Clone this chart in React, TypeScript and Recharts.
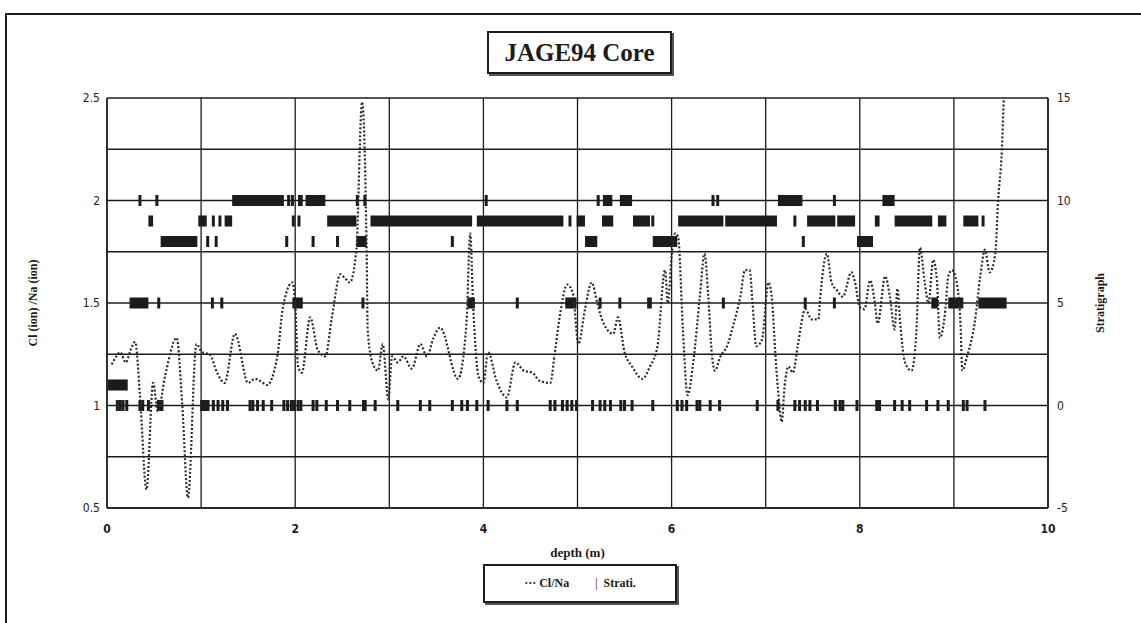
import React from "react";
import {
  ComposedChart,
  Line,
  Scatter,
  XAxis,
  YAxis,
  CartesianGrid,
  ReferenceArea,
} from "recharts";

// Cl/Na ratio along the core
const depths = [
  0.05, 0.1, 0.14, 0.2, 0.25, 0.3, 0.35, 0.42, 0.49, 0.54, 0.62, 0.74, 0.8, 0.86, 0.95, 1.01, 1.09, 1.17, 1.25, 1.36,
  1.5, 1.57, 1.63, 1.7, 1.81, 1.87, 1.97, 2.0, 2.03, 2.07, 2.16, 2.24, 2.32, 2.39, 2.48, 2.53, 2.58, 2.65, 2.71, 2.76,
  2.77, 2.82, 2.88, 2.93, 2.99, 3.03, 3.09, 3.15, 3.24, 3.33, 3.4, 3.47, 3.54, 3.73, 3.82, 3.86, 3.89, 3.95, 4.0, 4.05,
  4.14, 4.25, 4.34, 4.43, 4.52, 4.6, 4.71, 4.76, 4.81, 4.89, 4.95, 5.01, 5.08, 5.15, 5.21, 5.26, 5.38, 5.43, 5.5, 5.58,
  5.69, 5.77, 5.85, 5.93, 5.96, 6.0, 6.04, 6.07, 6.12, 6.17, 6.23, 6.3, 6.35, 6.39, 6.43, 6.46, 6.52, 6.59, 6.66, 6.73,
  6.78, 6.83, 6.86, 6.9, 6.96, 7.03, 7.07, 7.1, 7.13, 7.17, 7.2, 7.24, 7.29, 7.34, 7.42, 7.49, 7.56, 7.58, 7.65, 7.7,
  7.76, 7.82, 7.91, 7.95, 8.0, 8.05, 8.11, 8.16, 8.19, 8.27, 8.32, 8.37, 8.4, 8.43, 8.48, 8.55, 8.6, 8.64, 8.69, 8.73,
  8.78, 8.82, 8.85, 8.91, 8.94, 8.98, 9.03, 9.07, 9.09, 9.14, 9.22, 9.28, 9.33, 9.38, 9.44, 9.47, 9.51, 9.53,
];
const ratios = [
  1.2, 1.24, 1.26, 1.21, 1.27, 1.31, 1.05, 0.59, 1.11, 0.97, 1.15, 1.33, 1.0, 0.55, 1.3, 1.26, 1.25, 1.16, 1.11, 1.35,
  1.11, 1.13, 1.12, 1.1, 1.24, 1.48, 1.6, 1.5, 1.19, 1.16, 1.43, 1.27, 1.24, 1.43, 1.64, 1.62, 1.6, 1.76, 2.48, 1.73,
  1.37, 1.21, 1.17, 1.3, 1.03, 1.24, 1.21, 1.24, 1.18, 1.3, 1.24, 1.33, 1.38, 1.13, 1.4, 1.84, 1.5, 1.14, 1.11, 1.26,
  1.12, 1.04, 1.21, 1.17, 1.16, 1.12, 1.11, 1.26, 1.43, 1.59, 1.55, 1.3, 1.47, 1.6, 1.5, 1.42, 1.35, 1.43, 1.26, 1.19,
  1.13, 1.19, 1.29, 1.66, 1.5, 1.73, 1.84, 1.82, 1.37, 1.05, 1.21, 1.53, 1.74, 1.53, 1.24, 1.17, 1.24, 1.29, 1.4, 1.53,
  1.66, 1.66, 1.5, 1.29, 1.32, 1.6, 1.5, 1.27, 1.08, 0.92, 1.09, 1.19, 1.16, 1.29, 1.47, 1.42, 1.42, 1.53, 1.74, 1.6,
  1.56, 1.53, 1.65, 1.6, 1.48, 1.47, 1.61, 1.5, 1.4, 1.63, 1.53, 1.37, 1.57, 1.4, 1.21, 1.17, 1.35, 1.77, 1.6, 1.5,
  1.71, 1.61, 1.33, 1.47, 1.63, 1.66, 1.6, 1.4, 1.17, 1.24, 1.4, 1.63, 1.76, 1.65, 1.74, 2.0, 2.25, 2.5,
];

// stratigraph markers: single samples and runs of samples, per level
const level0Ticks = [
  0.11, 0.14, 0.17, 0.21, 0.35, 0.38, 0.44, 1.13, 1.18, 1.23, 1.28, 1.52, 1.55, 1.6, 1.66, 1.75, 1.88, 1.92, 1.96,
  1.99, 2.03, 2.06, 2.19, 2.23, 2.33, 2.45, 2.58, 2.85, 3.09, 3.33, 3.43, 3.67, 3.77, 3.83, 3.93, 4.05, 4.25, 4.36,
  4.71, 4.76, 4.84, 4.89, 4.94, 4.99, 5.16, 5.24, 5.29, 5.35, 5.46, 5.5, 5.58, 5.8, 6.06, 6.11, 6.16, 6.27, 6.3,
  6.41, 6.51, 6.91, 7.13, 7.31, 7.36, 7.42, 7.47, 7.55, 7.74, 7.79, 7.82, 7.97, 8.18, 8.21, 8.37, 8.45, 8.53, 8.71,
  8.83, 8.94, 9.1, 9.14, 9.33,
];
const level0Runs = [[0.53, 0.6], [0.99, 1.09], [2.71, 2.76]];
const level1Runs = [[0.01, 0.22]];
const level5Ticks = [0.55, 1.12, 1.22, 2.72, 4.36, 5.24, 5.45, 6.55, 7.42, 7.73];
const level5Runs = [
  [0.24, 0.44], [1.97, 2.08], [3.83, 3.91], [4.87, 4.99], [5.74, 5.79], [8.76, 8.83], [8.94, 9.1], [9.26, 9.56],
];
const level8Ticks = [1.07, 1.16, 1.91, 2.19, 2.45, 3.67, 7.4];
const level8Runs = [[0.57, 0.96], [2.65, 2.76], [5.08, 5.21], [5.8, 6.06], [7.97, 8.14]];
const level9Ticks = [1.13, 1.2, 1.98, 2.04, 4.92, 5.8, 7.31, 9.31];
const level9Runs = [
  [0.44, 0.49], [0.97, 1.06], [1.25, 1.33], [2.34, 2.65], [2.8, 3.88], [3.93, 4.85], [4.99, 5.08], [5.26, 5.38],
  [5.59, 5.77], [6.07, 6.55], [6.57, 7.12], [7.44, 7.74], [7.76, 7.95], [8.16, 8.21], [8.37, 8.77], [8.83, 8.92],
  [9.1, 9.26],
];
const level10Ticks = [0.35, 0.53, 1.93, 1.97, 2.66, 2.74, 4.03, 5.22, 6.44, 6.49, 7.73];
const level10Runs = [[1.33, 1.88], [2.03, 2.08], [2.11, 2.32], [5.27, 5.37], [5.45, 5.58], [7.13, 7.39], [8.24, 8.37]];

const xTicks = [0, 1, 2, 3, 4, 5, 6, 7, 8, 9, 10];
const leftTicks = [0.5, 0.75, 1, 1.25, 1.5, 1.75, 2, 2.25, 2.5];
const rightTicks = [-5, 0, 5, 10, 15];

const clna = depths.map((d, i) => ({ depth: d, ratio: ratios[i] }));

const tickSets: [number, number[]][] = [
  [0, level0Ticks],
  [5, level5Ticks],
  [8, level8Ticks],
  [9, level9Ticks],
  [10, level10Ticks],
];
const runSets: [number, number[][]][] = [
  [0, level0Runs],
  [1, level1Runs],
  [5, level5Runs],
  [8, level8Runs],
  [9, level9Runs],
  [10, level10Runs],
];
const strati = tickSets.flatMap(([level, ds]) => ds.map((d) => ({ depth: d, level })));
const runs = runSets.flatMap(([level, rs]) => rs.map(([a, b]) => ({ level, from: a, to: b })));

const INK = "#1c1c1c";
const HALF = 0.27; // half height of a strati mark, in stratigraph units
const serif = "'Liberation Serif', 'Times New Roman', serif";
const narrow = "'DejaVu Sans Condensed', 'Liberation Sans Narrow', sans-serif";

const StratiMark = (props: any) => {
  const { cx, cy } = props;
  return <rect x={cx - 1.5} y={cy - 5.5} width={3} height={11} fill={INK} />;
};

const halfTicks = (v: number) => (Number.isInteger(v * 2) ? String(v) : "");
const evenTicks = (v: number) => (v % 2 === 0 ? String(v) : "");

export default function App() {
  return (
    <div
      style={{
        position: "fixed",
        left: 0,
        top: 0,
        width: 1141,
        height: 623,
        overflow: "hidden",
        background: "#fff",
      }}
    >
      <div
        style={{
          position: "absolute",
          left: 5,
          top: 13,
          width: 1200,
          height: 700,
          border: `2px solid ${INK}`,
        }}
      />
      <ComposedChart
        width={1141}
        height={623}
        margin={{ top: 98, right: 33, bottom: 85, left: 47 }}
        style={{ position: "absolute", left: 0, top: 0 }}
      >
        <CartesianGrid stroke={INK} strokeWidth={1.3} />
        <XAxis
          dataKey="depth"
          type="number"
          domain={[0, 10]}
          ticks={xTicks}
          tickFormatter={evenTicks}
          interval={0}
          height={30}
          tickLine={false}
          tickMargin={10}
          axisLine={{ stroke: INK, strokeWidth: 1.5 }}
          tick={{ fill: INK, fontSize: 12, fontFamily: narrow, fontWeight: 700 }}
          allowDataOverflow
          label={{
            value: "depth (m)",
            position: "bottom",
            offset: 10,
            style: { fill: INK, fontSize: 13, fontFamily: serif, fontWeight: 700 },
          }}
        />
        <YAxis
          type="number"
          domain={[0.5, 2.5]}
          ticks={leftTicks}
          tickFormatter={halfTicks}
          interval={0}
          width={60}
          tickLine={false}
          tickMargin={1}
          axisLine={{ stroke: INK, strokeWidth: 1.5 }}
          tick={{ fill: INK, fontSize: 12, fontFamily: narrow }}
          allowDataOverflow
          label={{
            value: "Cl (ion) /Na (ion)",
            angle: -90,
            position: "insideLeft",
            offset: -14,
            style: { fill: INK, fontSize: 12, fontFamily: serif, fontWeight: 700, textAnchor: "middle" },
          }}
        />
        <YAxis
          yAxisId="right"
          orientation="right"
          type="number"
          domain={[-5, 15]}
          ticks={rightTicks}
          interval={0}
          width={60}
          tickLine={false}
          tickMargin={3}
          axisLine={{ stroke: INK, strokeWidth: 1.5 }}
          tick={{ fill: INK, fontSize: 12, fontFamily: narrow }}
          label={{
            value: "Stratigraph",
            angle: -90,
            position: "insideRight",
            offset: 8,
            style: { fill: INK, fontSize: 12, fontFamily: serif, fontWeight: 700, textAnchor: "middle" },
          }}
        />
        {runs.map((r, i) => (
          <ReferenceArea
            key={i}
            yAxisId="right"
            x1={r.from}
            x2={r.to}
            y1={r.level - HALF}
            y2={r.level + HALF}
            fill={INK}
            fillOpacity={1}
            stroke="none"
          />
        ))}
        <Scatter
          name="Strati."
          data={strati}
          dataKey="level"
          yAxisId="right"
          shape={<StratiMark />}
          isAnimationActive={false}
        />
        <Line
          name="Cl/Na"
          data={clna}
          dataKey="ratio"
          type="monotone"
          stroke="#2a2a2a"
          strokeWidth={2.2}
          strokeDasharray="2 2"
          dot={false}
          isAnimationActive={false}
        />
      </ComposedChart>
      <div
        style={{
          position: "absolute",
          left: 487,
          top: 31,
          width: 181,
          height: 39,
          border: `2px solid ${INK}`,
          boxShadow: "2px 2px 0 #555",
          display: "flex",
          alignItems: "center",
          justifyContent: "center",
          fontFamily: serif,
          fontWeight: 700,
          fontSize: 25,
          color: INK,
        }}
      >
        JAGE94 Core
      </div>
      <div
        style={{
          position: "absolute",
          left: 483,
          top: 564,
          width: 190,
          height: 35,
          border: `2px solid ${INK}`,
          boxShadow: "2px 2px 0 #555",
          display: "flex",
          alignItems: "center",
          justifyContent: "center",
          gap: 26,
          fontFamily: serif,
          fontWeight: 700,
          fontSize: 12,
          color: INK,
        }}
      >
        <span style={{ color: INK }}>··· Cl/Na</span>
        <span style={{ color: INK }}>
          <span style={{ color: INK, fontWeight: 400 }}>|</span>&nbsp; Strati.
        </span>
      </div>
    </div>
  );
}
